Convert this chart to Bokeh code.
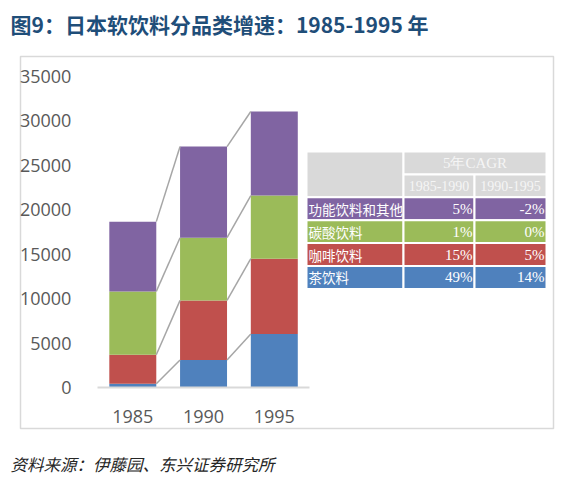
import numpy as np
from bokeh.plotting import figure
from bokeh.models import Range1d, FixedTicker, ColumnDataSource
from bokeh.core.properties import value
from bokeh.embed import file_html
from bokeh.resources import INLINE

# ---------------- data ----------------
years = ["1985", "1990", "1995"]
tea = [420, 3090, 6015]            # 茶饮料
coffee = [3260, 6710, 8485]        # 咖啡饮料
carbonated = [7135, 7060, 7100]    # 碳酸饮料
functional = [7850, 10255, 9460]   # 功能饮料和其他

y_ticks = [0, 5000, 10000, 15000, 20000, 25000, 30000, 35000]

table_rows = ["功能饮料和其他", "碳酸饮料", "咖啡饮料", "茶饮料"]
cagr_85_90 = ["5%", "1%", "15%", "49%"]
cagr_90_95 = ["-2%", "0%", "5%", "14%"]
cagr_header = "5年CAGR"
cagr_periods = ["1985-1990", "1990-1995"]

title_text = "图9：日本软饮料分品类增速：1985-1995 年"
source_text = "资料来源：伊藤园、东兴证券研究所"

# ---------------- style / layout (page pixels) ----------------
stack_colors = ["#4F81BD", "#C0504D", "#9BBB59", "#8064A2"]  # tea, coffee, carbonated, functional
row_colors = ["#8064A2", "#9BBB59", "#C0504D", "#4F81BD"]
header_gray = "#D9D9D9"
W, H = 571, 487
X0_PX, X_UNIT_PX = 132.3, 70.75      # page x of first category, px per category
Y0_PX, Y_PX_PER = 387.0, 0.0088857   # page y of value 0, px per unit
BAR_W = 0.664

p = figure(width=W, height=H, output_backend="svg", toolbar_location=None,
           x_range=Range1d(-X0_PX / X_UNIT_PX, (W - X0_PX) / X_UNIT_PX),
           y_range=Range1d(-(H - Y0_PX) / Y_PX_PER, Y0_PX / Y_PX_PER),
           min_border=0)
p.title.visible = False
p.outline_line_color = None
p.xgrid.visible = False
p.ygrid.visible = False
p.background_fill_color = "white"
p.border_fill_color = "white"

# page-pixel ranges for layout elements (table, chart box, texts)
p.extra_x_ranges = {"px": Range1d(0, W)}
p.extra_y_ranges = {"py": Range1d(H, 0)}

# ---------------- chart box ----------------
p.quad(left=[20], right=[553], top=[56], bottom=[428], fill_color=None,
       line_color="#D9D9D9", line_width=1.5, x_range_name="px", y_range_name="py")

# ---------------- stacked bars ----------------
x = list(range(len(years)))
src = ColumnDataSource(dict(x=x, tea=tea, coffee=coffee, carbonated=carbonated, functional=functional))
p.vbar_stack(["tea", "coffee", "carbonated", "functional"], x="x", width=BAR_W,
             color=stack_colors, line_color=None, source=src)

# connector lines between segment tops
tops = np.cumsum(np.array([tea, coffee, carbonated, functional], dtype=float), axis=0)
x0s, y0s, x1s, y1s = [], [], [], []
for lvl in range(tops.shape[0]):
    for i in range(len(years) - 1):
        x0s.append(i + BAR_W / 2); y0s.append(tops[lvl, i])
        x1s.append(i + 1 - BAR_W / 2); y1s.append(tops[lvl, i + 1])
p.segment(x0=x0s, y0=y0s, x1=x1s, y1=y1s, line_color="#A6A6A6", line_width=1.5)

# ---------------- axes (drawn inside, at fixed locations) ----------------
p.yaxis.fixed_location = -0.5
p.yaxis.ticker = FixedTicker(ticks=y_ticks)
p.yaxis.axis_line_color = None
p.yaxis.major_tick_line_color = None
p.yaxis.minor_tick_line_color = None
p.yaxis.major_label_standoff = 20
p.yaxis.major_label_text_font = "Open Sans"
p.yaxis.major_label_text_font_size = "18px"
p.yaxis.major_label_text_color = "#595959"

p.xaxis.fixed_location = 0
p.xaxis.ticker = FixedTicker(ticks=x)
p.xaxis.major_label_overrides = {i: y for i, y in zip(x, years)}
p.xaxis.bounds = (-0.5, len(years) - 0.5)
p.xaxis.axis_line_color = "#D9D9D9"
p.xaxis.axis_line_width = 2
p.xaxis.major_tick_line_color = None
p.xaxis.minor_tick_line_color = None
p.xaxis.major_label_standoff = 16
p.xaxis.major_label_text_font = "Open Sans"
p.xaxis.major_label_text_font_size = "18px"
p.xaxis.major_label_text_color = "#595959"

# ---------------- table ----------------
TL, C1, C2, TR = 306, 403, 474, 546
RH = 22.9
T0 = 151
rows_y = [T0 + k * RH for k in range(7)]

hl = [TL, C1, C1, C2]
hr = [C1, TR, C2, TR]
ht = [rows_y[0], rows_y[0], rows_y[1], rows_y[1]]
hb = [rows_y[2], rows_y[1], rows_y[2], rows_y[2]]
p.quad(left=hl, right=hr, top=ht, bottom=hb, fill_color=header_gray,
       line_color="white", line_width=2, x_range_name="px", y_range_name="py")

cl, cr, ct, cb, cc = [], [], [], [], []
for k in range(len(table_rows)):
    for (a, b) in [(TL, C1), (C1, C2), (C2, TR)]:
        cl.append(a); cr.append(b)
        ct.append(rows_y[k + 2]); cb.append(rows_y[k + 3])
        cc.append(row_colors[k])
p.quad(left=cl, right=cr, top=ct, bottom=cb, fill_color=cc,
       line_color="white", line_width=2, x_range_name="px", y_range_name="py")

num_font = value("Liberation Serif")
p.text(x=[(C1 + TR) / 2], y=[(rows_y[0] + rows_y[1]) / 2], text=[cagr_header],
       text_align="center", text_baseline="middle", text_color="#F5F5F5",
       text_font=num_font, text_font_size="15px",
       x_range_name="px", y_range_name="py")
p.text(x=[(C1 + C2) / 2, (C2 + TR) / 2], y=[(rows_y[1] + rows_y[2]) / 2] * 2,
       text=cagr_periods, text_align="center", text_baseline="middle",
       text_color="#F5F5F5", text_font=num_font, text_font_size="14px",
       x_range_name="px", y_range_name="py")

row_cy = [(rows_y[k + 2] + rows_y[k + 3]) / 2 for k in range(len(table_rows))]
p.text(x=[TL + 2] * len(table_rows), y=row_cy, text=table_rows,
       text_align="left", text_baseline="middle", text_color="white",
       text_font=value("Noto Sans CJK SC"), text_font_size="13.5px",
       x_range_name="px", y_range_name="py")
p.text(x=[C2 - 2] * len(table_rows), y=row_cy, text=cagr_85_90,
       text_align="right", text_baseline="middle", text_color="white",
       text_font=num_font, text_font_size="15px",
       x_range_name="px", y_range_name="py")
p.text(x=[TR - 2] * len(table_rows), y=row_cy, text=cagr_90_95,
       text_align="right", text_baseline="middle", text_color="white",
       text_font=num_font, text_font_size="15px",
       x_range_name="px", y_range_name="py")

# ---------------- title & source ----------------
p.text(x=[10], y=[23], text=[title_text], x_range_name="px", y_range_name="py",
       text_align="left", text_baseline="middle",
       text_font=value("Noto Sans CJK SC"), text_font_style="bold",
       text_font_size="21px", text_color="#1F4E79")
p.text(x=[10], y=[463], text=[source_text], x_range_name="px", y_range_name="py",
       text_align="left", text_baseline="middle",
       text_font=value("Noto Sans CJK SC"), text_font_style="italic",
       text_font_size="16.5px", text_color="#262626")

open("out.html", "w").write(file_html(p, INLINE))
